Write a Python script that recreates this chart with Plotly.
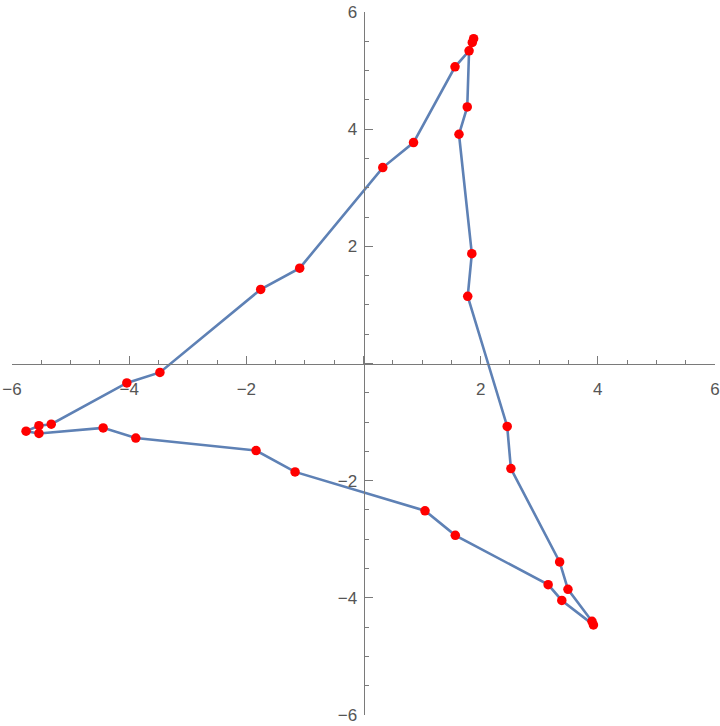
import plotly.graph_objects as go

# Path points (x, y), in drawing order
x_vals = [1.880, 1.857, 1.802, 1.771, 1.630, 1.849, 1.779, 2.453, 2.516, 3.348, 3.490,
          3.900, 3.925, 3.385, 3.152, 1.567, 1.050, -1.168, -1.834, -3.887, -4.444,
          -5.540, -5.760, -5.540, -5.330, -4.040, -3.475, -1.755, -1.089, 0.329, 0.854,
          1.562, 1.802]
y_vals = [5.545, 5.480, 5.338, 4.379, 3.913, 1.874, 1.146, -1.075, -1.794, -3.388, -3.855,
          -4.400, -4.462, -4.045, -3.775, -2.933, -2.514, -1.850, -1.486, -1.273, -1.099,
          -1.194, -1.155, -1.062, -1.036, -0.332, -0.152, 1.265, 1.628, 3.344, 3.771,
          5.064, 5.338]

axis_range = [-6, 6]
major_step = 2
minor_step = 0.5

fig = go.Figure()
fig.add_trace(go.Scatter(x=x_vals, y=y_vals, mode="lines",
                         line=dict(color="#5E81B5", width=2.6),
                         hoverinfo="skip", showlegend=False))
fig.add_trace(go.Scatter(x=x_vals[:-1], y=y_vals[:-1], mode="markers",
                         marker=dict(color="#FF0000", size=9.5),
                         showlegend=False))

axis_common = dict(
    range=axis_range, showgrid=False, zeroline=False, showline=True,
    linecolor="#7a7a7a", linewidth=1, ticks="inside", ticklen=8,
    tickcolor="#7a7a7a", tickwidth=1, tickmode="linear", tick0=0, dtick=major_step,
    labelalias={0: ""}, automargin=False,
    tickfont=dict(family="Liberation Sans, Arial, sans-serif", size=17, color="#555555"),
    minor=dict(ticks="inside", ticklen=4, dtick=minor_step, tick0=0,
               tickcolor="#7a7a7a", tickwidth=1, showgrid=False),
    anchor="free", position=0.5,
)

fig.update_layout(
    width=720, height=726,
    margin=dict(l=12, r=5, t=12, b=11),
    paper_bgcolor="white", plot_bgcolor="white",
    xaxis=dict(**axis_common, side="bottom", ticklabelstandoff=10),
    yaxis=dict(**axis_common, side="left", ticklabelstandoff=3),
)

fig.write_html("out.html", config={"displayModeBar": False},
               post_script="document.body.style.margin='0';")
